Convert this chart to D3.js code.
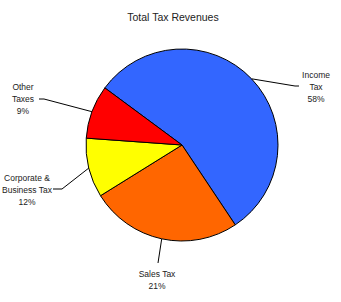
<!DOCTYPE html>
<html>
<head>
<meta charset="utf-8">
<script src="https://cdn.jsdelivr.net/npm/d3@7"></script>
<style>
  body { margin: 0; background: #fff; }
  text { font-family: "Liberation Sans", Arial, sans-serif; fill: #222; }
</style>
</head>
<body>
<script>
// slice sizes as drawn, and the percentage text printed beside them
const categories = ["Income\nTax", "Sales Tax", "Corporate &\nBusiness Tax", "Other\nTaxes"],
      values = [55.5, 25.5, 10, 9],
      pctLabels = ["58%", "21%", "12%", "9%"],
      colors = ["#3366ff", "#ff6600", "#ffff00", "#ff0000"];

// where each leader line ends, and where its label sits (relative to pie centre)
const elbows = [[[113, -59], [117, -59]], [[-24, 118], [-24, 118]],
                [[-120, 44], [-129, 44]], [[-138, -46], [-143, -46]]],
      labelAt = [[134, -74], [-25, 125], [-155, 29], [-159, -62]];

const width = 341, height = 302,
      cx = 182, cy = 145, r = 96,
      lineH = 12;

const svg = d3.select("body")
  .append("svg")
  .attr("width", width)
  .attr("height", height);

svg.append("text")
  .attr("x", 173)
  .attr("y", 21)
  .attr("text-anchor", "middle")
  .style("font-size", "10.5px")
  .text("Total Tax Revenues");

const pie = d3.pie()
  .sort(null)
  .startAngle(-53.5 * Math.PI / 180)
  .endAngle(-53.5 * Math.PI / 180 + 2 * Math.PI);

const arc = d3.arc().innerRadius(0).outerRadius(r);

const g = svg.append("g")
  .attr("transform", "translate(" + cx + "," + cy + ")");

const arcs = pie(values);

g.selectAll("path")
  .data(arcs).enter()
  .append("path")
  .attr("d", arc)
  .attr("fill", (d, i) => colors[i])
  .attr("stroke", "#000")
  .attr("stroke-width", 1)
  .attr("stroke-linejoin", "round");

// leader lines start on the rim at the middle of each slice
const rim = (d) => {
  const a = (d.startAngle + d.endAngle) / 2;
  return [r * Math.sin(a), -r * Math.cos(a)];
};

g.selectAll("polyline")
  .data(arcs).enter()
  .append("polyline")
  .attr("points", (d, i) => [rim(d)].concat(elbows[i]).map((p) => p.join(",")).join(" "))
  .attr("fill", "none")
  .attr("stroke", "#000")
  .attr("stroke-width", 1);

const labels = g.selectAll("text.lbl")
  .data(arcs).enter()
  .append("text")
  .attr("class", "lbl")
  .attr("text-anchor", "middle")
  .style("font-size", "8.5px")
  .attr("transform", (d, i) => "translate(" + labelAt[i][0] + "," + labelAt[i][1] + ")");

labels.each(function (d, i) {
  const lines = categories[i].split("\n").concat(pctLabels[i]);
  d3.select(this).selectAll("tspan")
    .data(lines).enter()
    .append("tspan")
    .attr("x", 0)
    .attr("y", (t, j) => j * lineH + 6.5)
    .text((t) => t);
});
</script>
</body>
</html>
